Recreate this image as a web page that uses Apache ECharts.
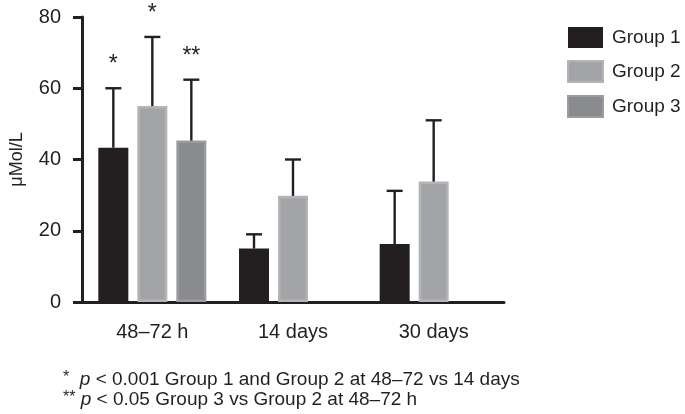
<!DOCTYPE html>
<html><head><meta charset="utf-8">
<script src="https://cdn.jsdelivr.net/npm/echarts@6/dist/echarts.min.js"></script>
<style>html,body{margin:0;padding:0;background:#fff}#c{width:685px;height:414px}</style>
</head><body><div id="c"></div>
<script>
const categories = ['48–72 h', '14 days', '30 days'];
const seriesNames = ['Group 1', 'Group 2', 'Group 3'];
const group1 = [43.3, 15.0, 16.3];
const group2 = [55.0, 29.8, 33.8];
const group3 = [45.3, null, null];
const group1Err = [60.0, 19.0, 31.2];
const group2Err = [74.4, 40.0, 51.0];
const group3Err = [62.4, null, null];
const group1Sig = ['*', '', ''];
const group2Sig = ['*', '', ''];
const group3Sig = ['**', '', ''];
const yTicks = [0, 20, 40, 60, 80];

const FONT = "'Liberation Sans', Arial, Helvetica, sans-serif";
const INK = '#231f20';
const BAR_W = 30, GAP = 9;
const fills = ['#231f20', '#a3a4a7', '#8a8b8e'];
const borders = ['#231f20', '#b3b4b6', '#9b9c9e'];
const values = [group1, group2, group3];
const errs = [group1Err, group2Err, group3Err];
const sigs = [group1Sig, group2Sig, group3Sig];

const chart = echarts.init(document.getElementById('c'), null, {renderer: 'canvas'});

const barSeries = seriesNames.map((n, i) => ({
  name: n, type: 'bar', data: values[i], barWidth: BAR_W, barGap: (GAP / BAR_W * 100) + '%',
  itemStyle: {color: fills[i], borderColor: borders[i], borderWidth: i === 0 ? 0 : 2.5},
  z: 2
}));

const errSeries = seriesNames.map((n, i) => ({
  type: 'custom', name: n + ' err', z: 5,
  data: categories.map((c, k) => [k, values[i][k], errs[i][k]]).filter(d => d[1] != null),
  encode: {x: 0, y: [1, 2]},
  renderItem: function (params, api) {
    const off = (i - 1) * (BAR_W + GAP);
    const k = api.value(0);
    const p0 = api.coord([k, api.value(1)]);
    const p1 = api.coord([k, api.value(2)]);
    const x = p0[0] + off;
    const st = {stroke: INK, lineWidth: 2.4};
    const children = [
      {type: 'line', shape: {x1: x, y1: p0[1], x2: x, y2: p1[1]}, style: st},
      {type: 'line', shape: {x1: x - 8, y1: p1[1], x2: x + 8, y2: p1[1]}, style: st}
    ];
    const s = sigs[i][k];
    if (s) children.push({type: 'text', style: {text: s, x: x, y: p1[1] - 12, align: 'center', verticalAlign: 'bottom', font: '23px ' + FONT, fill: INK}});
    return {type: 'group', children: children};
  }
}));

chart.setOption({
  animation: false,
  textStyle: {fontFamily: FONT},
  grid: {left: 74, top: 17, right: 181, bottom: 112},
  legend: {
    data: seriesNames, orient: 'vertical', left: 567, top: 27, padding: 0,
    icon: 'rect', itemWidth: 35, itemHeight: 21, itemGap: 12,
    textStyle: {fontSize: 19, color: INK, fontFamily: FONT, padding: [0, 0, 0, 4]}
  },
  xAxis: {
    type: 'category', data: categories,
    axisLine: {lineStyle: {color: INK, width: 3}},
    axisTick: {alignWithLabel: true, length: 8, lineStyle: {color: INK, width: 3}},
    axisLabel: {fontSize: 20, color: INK, margin: 20, fontFamily: FONT}
  },
  yAxis: {
    type: 'value', min: yTicks[0], max: yTicks[yTicks.length - 1], interval: 20,
    name: 'μMol/L', nameLocation: 'middle', nameGap: 56, nameRotate: 90,
    nameTextStyle: {fontSize: 18, color: INK, fontFamily: FONT},
    axisLine: {show: true, lineStyle: {color: INK, width: 3}},
    axisTick: {show: true, length: 9, lineStyle: {color: INK, width: 3}},
    axisLabel: {fontSize: 20, color: INK, margin: 21, fontFamily: FONT},
    splitLine: {show: false}
  },
  graphic: [{
    type: 'text', left: 63, top: 370,
    style: {
      rich: {
        n: {fontSize: 19, fontFamily: FONT, fill: INK, lineHeight: 20},
        s: {fontSize: 16, fontFamily: FONT, fill: INK, lineHeight: 20, verticalAlign: 'top'},
        i: {fontSize: 19, fontFamily: FONT, fontStyle: 'italic', fill: INK, lineHeight: 20}
      },
      text: '{s|*}{n|  }{i|p}{n| < 0.001 Group 1 and Group 2 at 48–72 vs 14 days}\n{s|**}{n| }{i|p}{n| < 0.05 Group 3 vs Group 2 at 48–72 h}'
    }
  }],
  series: barSeries.concat(errSeries)
});
</script></body></html>
